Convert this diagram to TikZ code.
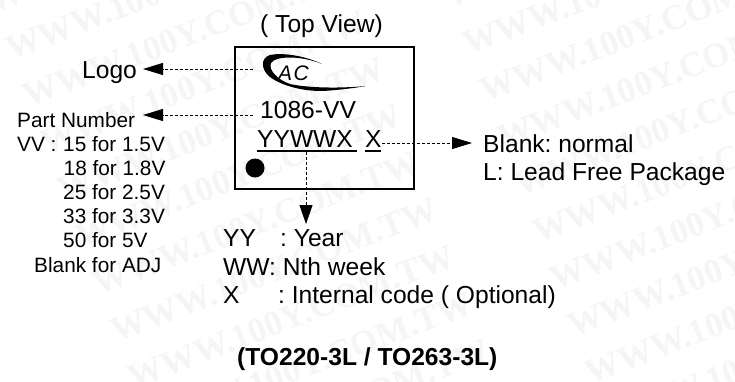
\documentclass[tikz,border=0pt]{standalone}
\usepackage{fontspec}
\setmainfont{Liberation Sans}
\newfontfamily\wmfont{Liberation Serif}
\usetikzlibrary{arrows.meta}
\frenchspacing
\tikzset{
  big/.style={anchor=base west,inner sep=0pt,font=\fontsize{24.6}{28}\selectfont,text=black},
  small/.style={anchor=base west,inner sep=0pt,font=\fontsize{20.8}{24}\selectfont,text=black},
  bold/.style={anchor=base west,inner sep=0pt,font=\fontsize{24.6}{28}\selectfont\bfseries,text=black},
  dashline/.style={line width=0.9pt,dash pattern=on 3pt off 2pt},
  headleft/.style={dashline,-{Triangle[length=20pt,width=12pt]}},
  wm/.style={anchor=base west,inner sep=0pt,rotate=21,font=\fontsize{35}{35}\selectfont\bfseries\wmfont,text=black!4},
}
\begin{document}
\begin{tikzpicture}[x=1pt,y=-1pt]
\useasboundingbox (0,0) rectangle (735,381);
\fill[white] (0,0) rectangle (735,381);
% watermark
\begin{scope}
\clip (0,0) rectangle (735,381);
\foreach \k in {-1,...,9}{
  \node[wm] (wmL\k) at ({11+17.5*\k},{61+47*\k}) {WWW.100Y.COM.TW};
}
\foreach \k in {-1,...,8}{
  \node[wm] (wmR\k) at ({468+17.5*\k},{56+47*\k}) {WWW.100Y.COM.TW};
}
\end{scope}
% package outline
\node[draw=black,line width=1.7pt,minimum width=179pt,minimum height=142pt,inner sep=0pt,anchor=north west] (pkg) at (234,46) {};
\node[big] (top) at (260,32) {( Top View)};
% logo
\fill[black] (322,64) .. controls (308,57) and (285,52) .. (270,55)
  .. controls (260,58) and (261,70) .. (270,77)
  .. controls (280,85) and (305,93) .. (330,90.5)
  .. controls (342,89.5) and (355,88) .. (366,86)
  .. controls (340,88.5) and (308,88) .. (290,84)
  .. controls (278,80) and (268,70) .. (271,63)
  .. controls (275,56) and (300,55) .. (322,64) -- cycle;
\node[anchor=base west,inner sep=0pt,font=\fontsize{21}{21}\selectfont\itshape] (ac) at (278,80) {A\kern1.5ptC};
\node[big] (pn) at (260,118) {1086-VV};
\node[big] (date) at (257,147) {YYWWX};
\node[big] (lead) at (365,147) {X};
\draw[line width=1.6pt] (date.base west)++(0,4) -- ++(100,0);
\draw[line width=1.6pt] (lead.base west)++(0,4) -- ++(16,0);
\fill[black] (255,168) circle (9.5);
% labels
\node[big] (logo) at (82,78) {Logo};
\node[small] (part) at (17,127) {Part Number};
\node[small] (vv) at (17,151) {VV :};
\node[small] (v15) at (63,151) {15 for 1.5V};
\node[small] (v18) at (63.5,175) {18 for 1.8V};
\node[small] (v25) at (63,199) {25 for 2.5V};
\node[small] (v33) at (63,223) {33 for 3.3V};
\node[small] (v50) at (63,247) {50 for 5V};
\node[small] (vadj) at (34,272) {Blank for ADJ};
\node[big] (blank) at (483,152) {Blank: normal};
\node[big] (lf) at (483,180) {L: Lead Free Package};
\node[big] (yy) at (223,246) {YY};
\node[big] (yyt) at (280,246) {: Year};
\node[big] (ww) at (223,275) {WW: Nth week};
\node[big] (xx) at (223,303) {X};
\node[big] (xxt) at (278,303) {: Internal code ( Optional)};
\node[bold] (cap) at (237,365) {(TO220-3L / TO263-3L)};
% connectors
\coordinate (logoEnd) at (253,69);
\coordinate (logoTip) at (143,69);
\coordinate (partEnd) at (253,115);
\coordinate (partTip) at (143,115);
\coordinate (leadEnd) at (382,143);
\coordinate (leadTip) at (472,143);
\coordinate (dateEnd) at (306,152);
\coordinate (dateTip) at (306,224);
\draw[headleft] (logoEnd) -- (logoTip);
\draw[headleft] (partEnd) -- (partTip);
\draw[headleft] (leadEnd) -- (leadTip);
\draw[dashline,-{Triangle[length=19pt,width=13pt]}] (dateEnd) -- (dateTip);
\end{tikzpicture}
\end{document}
